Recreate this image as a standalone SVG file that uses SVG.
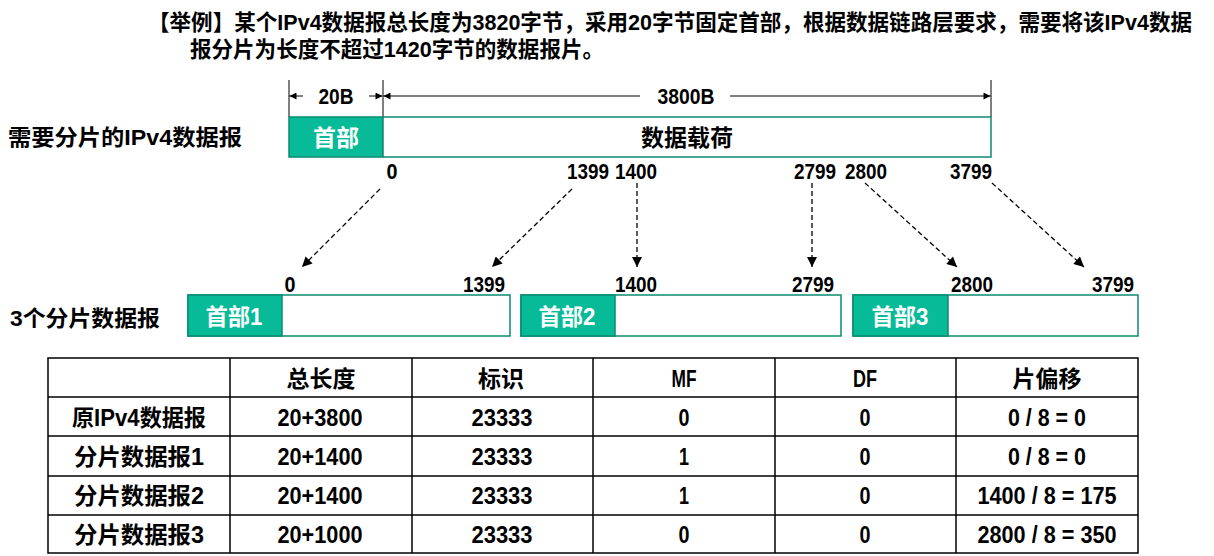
<svg xmlns="http://www.w3.org/2000/svg" width="1214" height="556" viewBox="0 0 1214 556">
<style>
text{font-family:"Liberation Sans","Noto Sans CJK SC",sans-serif;font-weight:bold;fill:#000}
.t{font-size:22px}
.h{font-size:23px}
.lbl{font-size:22px}
.num{font-size:22px;text-anchor:middle}
.c{text-anchor:middle}
.w{fill:#fff}
.hdr{fill:#07BA98;stroke:#0B8A70;stroke-width:1.5}
.body{fill:#fff;stroke:#0B8A70;stroke-width:1.5}
.dim{stroke:#000;stroke-width:1;fill:none}
.dash{stroke:#000;stroke-width:1.3;stroke-dasharray:5 3;fill:none}
.grid{stroke:#000;stroke-width:1.5;fill:none}
.cell{font-size:23px;text-anchor:middle}
.cn{font-size:24px;text-anchor:middle}
</style>
<defs>
<marker id="ah" viewBox="0 0 10 10" refX="10" refY="5" markerWidth="9" markerHeight="7" markerUnits="userSpaceOnUse" orient="auto">
<path d="M0,0 L10,5 L0,10 z" fill="#000"/>
</marker>
<marker id="ad" viewBox="0 0 10 10" refX="10" refY="5" markerWidth="13" markerHeight="10" markerUnits="userSpaceOnUse" orient="auto">
<path d="M0,0 L10,5 L0,10 z" fill="#000"/>
</marker>
</defs>

<g id="title">
<text class="t" x="148" y="30" textLength="1044" lengthAdjust="spacingAndGlyphs">【举例】某个IPv4数据报总长度为3820字节，采用20字节固定首部，根据数据链路层要求，需要将该IPv4数据</text>
<text class="t" x="190" y="57" textLength="414" lengthAdjust="spacingAndGlyphs">报分片为长度不超过1420字节的数据报片。</text>
</g>

<g id="dimensions">
<line class="dim" x1="289" y1="80" x2="289" y2="117"/>
<line class="dim" x1="383" y1="80" x2="383" y2="117"/>
<line class="dim" x1="991" y1="80" x2="991" y2="117"/>
<line class="dim" x1="303" y1="96" x2="289.5" y2="96" marker-end="url(#ah)"/>
<line class="dim" x1="369" y1="96" x2="382.5" y2="96" marker-end="url(#ah)"/>
<line class="dim" x1="640" y1="96" x2="383.5" y2="96" marker-end="url(#ah)"/>
<line class="dim" x1="730" y1="96" x2="990.5" y2="96" marker-end="url(#ah)"/>
<text class="num" x="336" y="104" textLength="35" lengthAdjust="spacingAndGlyphs">20B</text>
<text class="num" x="686" y="104" textLength="57" lengthAdjust="spacingAndGlyphs">3800B</text>
</g>

<g id="original">
<text class="lbl" x="8" y="145" textLength="234" lengthAdjust="spacingAndGlyphs">需要分片的IPv4数据报</text>
<rect class="hdr" x="289" y="117" width="94" height="40"/>
<rect class="body" x="383" y="117" width="608" height="40"/>
<text class="h c w" x="336" y="146">首部</text>
<text class="h c" x="687" y="146">数据载荷</text>
<text class="num" x="392" y="179" textLength="11" lengthAdjust="spacingAndGlyphs">0</text>
<text class="num" x="588" y="179" textLength="42" lengthAdjust="spacingAndGlyphs">1399</text>
<text class="num" x="636" y="179" textLength="42" lengthAdjust="spacingAndGlyphs">1400</text>
<text class="num" x="815" y="179" textLength="42" lengthAdjust="spacingAndGlyphs">2799</text>
<text class="num" x="866" y="179" textLength="42" lengthAdjust="spacingAndGlyphs">2800</text>
<text class="num" x="971" y="179" textLength="42" lengthAdjust="spacingAndGlyphs">3799</text>
</g>

<g id="connectors">
<line class="dash" x1="380" y1="189" x2="302" y2="267" marker-end="url(#ad)"/>
<line class="dash" x1="572" y1="189" x2="492" y2="267" marker-end="url(#ad)"/>
<line class="dash" x1="637" y1="183" x2="637" y2="267" marker-end="url(#ad)"/>
<line class="dash" x1="812" y1="183" x2="812" y2="267" marker-end="url(#ad)"/>
<line class="dash" x1="865" y1="183" x2="957" y2="267" marker-end="url(#ad)"/>
<line class="dash" x1="992" y1="183" x2="1084" y2="267" marker-end="url(#ad)"/>
</g>

<g id="fragments">
<text class="lbl" x="10" y="326" textLength="150" lengthAdjust="spacingAndGlyphs">3个分片数据报</text>
<text class="num" x="290" y="292" textLength="11" lengthAdjust="spacingAndGlyphs">0</text>
<text class="num" x="484" y="292" textLength="42" lengthAdjust="spacingAndGlyphs">1399</text>
<text class="num" x="636" y="292" textLength="42" lengthAdjust="spacingAndGlyphs">1400</text>
<text class="num" x="813" y="292" textLength="42" lengthAdjust="spacingAndGlyphs">2799</text>
<text class="num" x="972" y="292" textLength="42" lengthAdjust="spacingAndGlyphs">2800</text>
<text class="num" x="1113" y="292" textLength="42" lengthAdjust="spacingAndGlyphs">3799</text>
</g>
<g id="frag1">
<rect class="body" x="188" y="295" width="322" height="41"/>
<rect class="hdr" x="188" y="295" width="94" height="41"/>
<text class="h c w" x="234" y="325" textLength="57" lengthAdjust="spacingAndGlyphs">首部1</text>
</g>
<g id="frag2">
<rect class="body" x="521" y="295" width="320" height="41"/>
<rect class="hdr" x="521" y="295" width="94" height="41"/>
<text class="h c w" x="567" y="325" textLength="57" lengthAdjust="spacingAndGlyphs">首部2</text>
</g>
<g id="frag3">
<rect class="body" x="853" y="295" width="285" height="41"/>
<rect class="hdr" x="853" y="295" width="95" height="41"/>
<text class="h c w" x="900" y="325" textLength="57" lengthAdjust="spacingAndGlyphs">首部3</text>
</g>

<g id="table">
<rect class="grid" x="48" y="358" width="1090" height="195"/>
<line class="grid" x1="48" y1="397" x2="1138" y2="397"/>
<line class="grid" x1="48" y1="436" x2="1138" y2="436"/>
<line class="grid" x1="48" y1="476" x2="1138" y2="476"/>
<line class="grid" x1="48" y1="515" x2="1138" y2="515"/>
<line class="grid" x1="230" y1="358" x2="230" y2="553"/>
<line class="grid" x1="412" y1="358" x2="412" y2="553"/>
<line class="grid" x1="593" y1="358" x2="593" y2="553"/>
<line class="grid" x1="775" y1="358" x2="775" y2="553"/>
<line class="grid" x1="956" y1="358" x2="956" y2="553"/>
<text class="cell" x="321" y="387">总长度</text>
<text class="cell" x="501" y="387">标识</text>
<text class="cn" x="684" y="387" textLength="25" lengthAdjust="spacingAndGlyphs">MF</text>
<text class="cn" x="865" y="387" textLength="24" lengthAdjust="spacingAndGlyphs">DF</text>
<text class="cell" x="1047" y="387">片偏移</text>

<text class="cell" x="139" y="426" textLength="134" lengthAdjust="spacingAndGlyphs">原IPv4数据报</text>
<text class="cn" x="320" y="426" textLength="85" lengthAdjust="spacingAndGlyphs">20+3800</text>
<text class="cn" x="502" y="426" textLength="61" lengthAdjust="spacingAndGlyphs">23333</text>
<text class="cn" x="684" y="426" textLength="11" lengthAdjust="spacingAndGlyphs">0</text>
<text class="cn" x="865" y="426" textLength="11" lengthAdjust="spacingAndGlyphs">0</text>
<text class="cn" x="1047" y="426" textLength="78" lengthAdjust="spacingAndGlyphs">0 / 8 = 0</text>

<text class="cell" x="139" y="465" textLength="130" lengthAdjust="spacingAndGlyphs">分片数据报1</text>
<text class="cn" x="320" y="465" textLength="85" lengthAdjust="spacingAndGlyphs">20+1400</text>
<text class="cn" x="502" y="465" textLength="61" lengthAdjust="spacingAndGlyphs">23333</text>
<text class="cn" x="684" y="465" textLength="10" lengthAdjust="spacingAndGlyphs">1</text>
<text class="cn" x="865" y="465" textLength="11" lengthAdjust="spacingAndGlyphs">0</text>
<text class="cn" x="1047" y="465" textLength="78" lengthAdjust="spacingAndGlyphs">0 / 8 = 0</text>

<text class="cell" x="139" y="504" textLength="130" lengthAdjust="spacingAndGlyphs">分片数据报2</text>
<text class="cn" x="320" y="504" textLength="85" lengthAdjust="spacingAndGlyphs">20+1400</text>
<text class="cn" x="502" y="504" textLength="61" lengthAdjust="spacingAndGlyphs">23333</text>
<text class="cn" x="684" y="504" textLength="10" lengthAdjust="spacingAndGlyphs">1</text>
<text class="cn" x="865" y="504" textLength="11" lengthAdjust="spacingAndGlyphs">0</text>
<text class="cn" x="1047" y="504" textLength="139" lengthAdjust="spacingAndGlyphs">1400 / 8 = 175</text>

<text class="cell" x="139" y="543" textLength="130" lengthAdjust="spacingAndGlyphs">分片数据报3</text>
<text class="cn" x="320" y="543" textLength="85" lengthAdjust="spacingAndGlyphs">20+1000</text>
<text class="cn" x="502" y="543" textLength="61" lengthAdjust="spacingAndGlyphs">23333</text>
<text class="cn" x="684" y="543" textLength="11" lengthAdjust="spacingAndGlyphs">0</text>
<text class="cn" x="865" y="543" textLength="11" lengthAdjust="spacingAndGlyphs">0</text>
<text class="cn" x="1047" y="543" textLength="139" lengthAdjust="spacingAndGlyphs">2800 / 8 = 350</text>
</g>
</svg>
